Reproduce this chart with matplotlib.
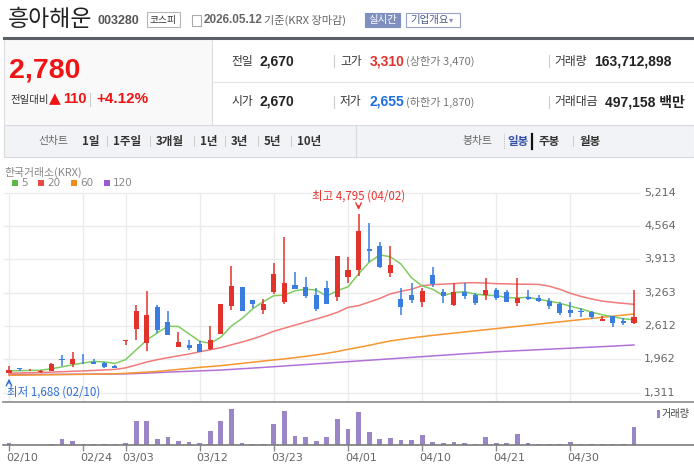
import numpy as np
import matplotlib
matplotlib.use('Agg')
import matplotlib.pyplot as plt
from matplotlib.patches import Rectangle
from matplotlib.lines import Line2D

plt.rcParams['font.family'] = ['Noto Sans CJK KR', 'DejaVu Sans']

# ---- data (daily candles 02/10 .. 05/12) ----
tick_idx = [0, 7, 11, 18, 25, 32, 39, 46, 53]
tick_labels = ['02/10', '02/24', '03/03', '03/12', '03/23', '04/01', '04/10', '04/21', '04/30']
price_ticks = [1311, 1962, 2612, 3263, 3913, 4564, 5214]

opens = [1688, 1775, 1745, 1710, 1740, 1965, 1876, 1950, 1910, 1890,
         1825, 2320, 2554, 2287, 2984, 2685, 2208, 2242, 2261, 2163,
         2456, 3009, 3374, 3120, 2931, 3277, 3081, 3413, 3374, 3218,
         3355, 3185, 3575, 3712, 4116, 4175, 3654, 3140, 3218, 3087,
         3609, 3271, 3023, 3277, 3218, 3218, 3316, 3271, 3068, 3179,
         3153, 3101, 3048, 2919, 2890, 2886, 2716, 2808, 2710, 2670]
highs = [1830, 1800, 1780, 1760, 1885, 2050, 2105, 2066, 1962, 1910,
         1850, 2333, 3030, 3296, 3030, 2906, 2495, 2333, 2325, 2613,
         3050, 3784, 3380, 3125, 3140, 3843, 4351, 3667, 3570, 3355,
         3491, 3980, 3960, 4795, 4624, 4253, 4175, 3349, 3452, 3361,
         3765, 3335, 3452, 3452, 3257, 3544, 3355, 3310, 3550, 3310,
         3218, 3153, 3081, 3075, 2970, 2911, 2814, 2814, 2763, 3310]
lows = [1688, 1740, 1735, 1690, 1735, 1830, 1818, 1865, 1870, 1800,
        1790, 2247, 2340, 2130, 2470, 2440, 2200, 2144, 2105, 2144,
        2450, 2931, 2905, 2964, 2847, 3238, 3048, 3330, 3165, 2911,
        3040, 3101, 3458, 3595, 3857, 3751, 3575, 2833, 3062, 2990,
        3368, 3068, 3009, 3146, 3029, 3120, 3126, 3080, 3009, 3120,
        3075, 2945, 2827, 2794, 2794, 2743, 2716, 2599, 2632, 2655]
closes = [1760, 1765, 1760, 1735, 1865, 1945, 1968, 1940, 1880, 1820,
          1795, 2333, 2906, 2827, 2535, 2443, 2300, 2183, 2111, 2339,
          3042, 3394, 2911, 3048, 3042, 3628, 3452, 3335, 3204, 2950,
          3048, 3980, 3706, 4468, 4083, 3765, 3804, 2990, 3126, 3296,
          3427, 3204, 3277, 3204, 3068, 3316, 3165, 3087, 3159, 3146,
          3101, 3009, 2872, 2867, 2880, 2794, 2749, 2677, 2670, 2780]
# volume in millions of shares
volume = [18, 2, 1.5, 2, 9, 58, 36, 9, 9, 9,
          9, 18, 221, 221, 58, 73, 36, 27, 18, 130,
          221, 327, 18, 9, 9, 191, 309, 82, 73, 36,
          73, 236, 148, 303, 118, 55, 64, 45, 45, 91,
          27, 18, 27, 18, 9, 73, 18, 18, 100, 18,
          9, 9, 9, 27, 9, 9, 9, 9, 9, 163.7]
ma5 = [1735, 1740, 1745, 1750, 1777, 1814, 1855, 1891, 1920, 1911,
       1881, 1954, 2147, 2336, 2479, 2609, 2602, 2458, 2314, 2275,
       2395, 2614, 2759, 2947, 3087, 3205, 3216, 3301, 3332, 3314,
       3198, 3303, 3378, 3630, 3857, 4000, 3965, 3822, 3554, 3396,
       3329, 3209, 3266, 3282, 3236, 3214, 3206, 3168, 3159, 3175,
       3132, 3100, 3057, 2999, 2946, 2884, 2832, 2793, 2754, 2734]
ma20 = [1690, 1695, 1700, 1705, 1712, 1720, 1728, 1735, 1745, 1755,
        1765, 1795, 1850, 1910, 1955, 1995, 2030, 2065, 2110, 2150,
        2190, 2245, 2300, 2360, 2430, 2510, 2570, 2630, 2690, 2750,
        2810, 2880, 2975, 3010, 3080, 3150, 3240, 3290, 3330, 3400,
        3420, 3430, 3440, 3455, 3458, 3450, 3440, 3435, 3430, 3428,
        3425, 3390, 3330, 3251, 3190, 3140, 3100, 3075, 3055, 3036]
ma60 = [1650, 1652, 1655, 1658, 1660, 1663, 1666, 1669, 1672, 1676,
        1680, 1688, 1700, 1712, 1725, 1745, 1765, 1785, 1805, 1822,
        1838, 1860, 1882, 1905, 1928, 1950, 1970, 1995, 2020, 2050,
        2079, 2115, 2157, 2195, 2235, 2280, 2320, 2350, 2380, 2405,
        2430, 2452, 2474, 2496, 2518, 2540, 2562, 2584, 2606, 2628,
        2650, 2672, 2694, 2716, 2738, 2760, 2782, 2804, 2826, 2847]
ma120 = [1665, 1666, 1667, 1668, 1669, 1670, 1671, 1672, 1673, 1674,
         1675, 1678, 1684, 1692, 1702, 1712, 1720, 1728, 1736, 1744,
         1752, 1765, 1778, 1791, 1804, 1818, 1832, 1846, 1860, 1874,
         1888, 1902, 1916, 1930, 1944, 1958, 1972, 1986, 2000, 2014,
         2028, 2042, 2056, 2070, 2083, 2097, 2110, 2120, 2130, 2140,
         2150, 2160, 2170, 2180, 2190, 2200, 2210, 2220, 2231, 2242]

RED = '#e1322b'
BLUE = '#3a7de0'
W, H = 694, 472
step = 625 / 59.0

fig = plt.figure(figsize=(W / 100, H / 100), dpi=100)
fig.patch.set_facecolor('white')


def ptext(x, y, s, **kw):
    kw.setdefault('va', 'center')
    fig.text(x / W, 1 - y / H, s, **kw)


def prect(x0, y0, x1, y1, **kw):
    fig.patches.append(Rectangle((x0 / W, 1 - y1 / H), (x1 - x0) / W, (y1 - y0) / H,
                                 transform=fig.transFigure, **kw))


def pline(x0, y0, x1, y1, **kw):
    fig.lines.append(Line2D([x0 / W, x1 / W], [1 - y0 / H, 1 - y1 / H],
                            transform=fig.transFigure, **kw))


NUM = ['Liberation Sans', 'Noto Sans CJK KR']

# ---- header ----
ptext(8, 19, '흥아해운', fontsize=16.5, color='#222222')
ptext(97, 21, '003280', fontsize=9, color='#555555', fontweight='bold', family=NUM)
prect(147, 12, 180, 27, facecolor='white', edgecolor='#b5b5b5', lw=0.8)
ptext(163.5, 19.5, '코스피', fontsize=7, color='#333333', ha='center')
prect(192, 15, 201, 26, facecolor='white', edgecolor='#aaaaaa', lw=0.8)
ptext(204, 20, '2026.05.12', fontsize=8.5, color='#666666', fontweight='bold', family=NUM)
ptext(264, 20, '기준(KRX 장마감)', fontsize=8, color='#666666')
prect(365, 13, 400, 27, facecolor='#7f8fbf', edgecolor='#7f8fbf', lw=0.8)
ptext(382.5, 20, '실시간', fontsize=7.5, color='white', ha='center')
prect(406, 13, 460, 27, facecolor='white', edgecolor='#99a3c6', lw=0.8)
ptext(410, 20, '기업개요', fontsize=7.5, color='#4a5a8a')
ptext(449, 20, '▾', fontsize=6, color='#8891b0', family=['DejaVu Sans'])

pline(4, 38, 694, 38, color='#5b6068', lw=2.2)
prect(4, 39.5, 212, 125, facecolor='#f9f9f9', edgecolor='none')
pline(212, 39.5, 212, 125, color='#dddddd', lw=0.8)
pline(4, 39.5, 4, 157, color='#dddddd', lw=0.8)
pline(213, 82, 694, 82, color='#e6e6e6', lw=0.8)

ptext(9, 71, '2,780', fontsize=20.5, color='#f01414', fontweight='bold', family=NUM)
ptext(10, 100, '전일대비', fontsize=7.5, color='#333333')
ptext(49, 99, '▲', fontsize=11, color='#f01414', family=['DejaVu Sans'])
ptext(63, 99, '110', fontsize=10.5, color='#f01414', fontweight='bold', family=NUM)
pline(90, 93, 90, 106, color='#cccccc', lw=0.8)
ptext(96, 99, '+4.12%', fontsize=11, color='#f01414', fontweight='bold', family=NUM)

rows = [(61, '전일', '2,670', '#222222', '고가', '3,310', RED, '(상한가 3,470)',
         '거래량', '163,712,898'),
        (102, '시가', '2,670', '#222222', '저가', '2,655', '#1e6fe0', '(하한가 1,870)',
         '거래대금', '497,158 백만')]
for y, l1, v1, c1, l2, v2, c2, note, l3, v3 in rows:
    ptext(231, y, l1, fontsize=8.5, color='#333333')
    ptext(260, y, v1, fontsize=10, color=c1, fontweight='bold', family=NUM)
    pline(334, y - 6, 334, y + 6, color='#cccccc', lw=0.8)
    ptext(340, y, l2, fontsize=8.5, color='#333333')
    ptext(370, y, v2, fontsize=10, color=c2, fontweight='bold', family=NUM)
    ptext(406, y, note, fontsize=8, color='#777777')
    pline(549, y - 6, 549, y + 6, color='#cccccc', lw=0.8)
    ptext(554, y, l3, fontsize=8.5, color='#333333')
    ptext(594 if l3 == '거래량' else 605, y, v3, fontsize=10, color='#222222',
          fontweight='bold', family=NUM)

# ---- tab bar ----
prect(4, 125, 694, 157, facecolor='#f2f3f7', edgecolor='#d6d9e0', lw=0.8)
pline(356, 125, 356, 157, color='#d6d9e0', lw=0.8)
ptext(38, 141, '선차트', fontsize=7.8, color='#666666')
tabs = [(82, '1일'), (113, '1주일'), (156, '3개월'), (200, '1년'),
        (231, '3년'), (264, '5년'), (297, '10년')]
for i, (x, s) in enumerate(tabs):
    ptext(x, 141, s, fontsize=8.3, color='#333333', fontweight='bold')
    if i > 0:
        pline(x - 6, 136, x - 6, 146, color='#cccccc', lw=0.7)
ptext(462, 141, '봉차트', fontsize=7.8, color='#666666')
ptext(507, 141, '일봉', fontsize=8.3, color='#3352a8', fontweight='bold')
pline(504, 134, 504, 149, color='#999999', lw=0.6, ls=':')
pline(532, 134, 532, 149, color='#111111', lw=1.6)
ptext(539, 141, '주봉', fontsize=8.3, color='#333333', fontweight='bold')
pline(573, 136, 573, 146, color='#cccccc', lw=0.7)
ptext(580, 141, '월봉', fontsize=8.3, color='#333333', fontweight='bold')

# ---- chart legend ----
ptext(4, 172, '한국거래소(KRX)', fontsize=7.8, color='#888888')
for x, c, s in [(12, '#5cb842', '5'), (38, '#e84a4a', '20'),
                (71, '#f08c1e', '60'), (104, '#9a5cd0', '120')]:
    prect(x, 180, x + 6, 186, facecolor=c, edgecolor='none')
    ptext(x + 9, 183.5, s, fontsize=7.5, color='#888888', family=['DejaVu Sans'])

# ---- price pane ----
x = np.arange(len(closes))
xl = ((3 - 9) / step, (694 - 9) / step)
grid_end = (640 - 9) / step


def price_at(py):
    return 3263 - (py - 292.7) * 19.53


ax = fig.add_axes([3 / W, 1 - 402 / H, (694 - 3) / W, (402 - 187) / H])
ax.set_facecolor('none')
ax.set_xlim(*xl)
ax.set_ylim(price_at(402), price_at(187))
for s in ['top', 'left', 'right']:
    ax.spines[s].set_visible(False)
ax.spines['bottom'].set_color('#8a8a8a')
ax.spines['bottom'].set_linewidth(1.2)
ax.set_xticks([])
ax.set_yticks([])

ax.hlines(price_ticks, xl[0], grid_end, color='#ebebeb', lw=1, zorder=0)
ax.vlines(tick_idx, price_at(402), 5214, color='#ebebeb', lw=1, zorder=0)
for p in price_ticks:
    ax.text((644 - 9) / step, p, f'{p:,}', fontsize=8, color='#666666',
            va='center', ha='left', family=['DejaVu Sans'])

ax.plot(x, ma120, color='#b072d8', lw=1.1, zorder=2)
ax.plot(x, ma60, color='#f5962f', lw=1.1, zorder=2)
ax.plot(x, ma20, color='#f27a7a', lw=1.1, zorder=2)
ax.plot(x, ma5, color='#80cc62', lw=1.1, zorder=2)

o = np.array(opens)
c = np.array(closes)
up = c >= o
cols = np.where(up, RED, BLUE)
ax.vlines(x, lows, highs, colors=cols, lw=1.1, zorder=3)
body = np.maximum(np.abs(c - o), 18)
ax.bar(x, body, bottom=np.minimum(o, c), width=0.48, color=cols, zorder=4)

hi_i = int(np.argmax(highs))
lo_i = int(np.argmin(lows))
ax.text(hi_i, price_at(196), f'최고 {highs[hi_i]:,} (04/02)', fontsize=8.3,
        color='#e8332f', ha='center', va='center')
ax.annotate('', xy=(hi_i, highs[hi_i] + 30), xytext=(hi_i, price_at(203)),
            arrowprops=dict(arrowstyle='->', color='#e8332f', lw=1))
ax.text(lo_i - 0.2, price_at(392), f'최저 {lows[lo_i]:,} (02/10)', fontsize=8.3,
        color='#2f6fd6', ha='left', va='center')
ax.annotate('', xy=(lo_i, lows[lo_i] - 50), xytext=(lo_i, price_at(386)),
            arrowprops=dict(arrowstyle='->', color='#2f6fd6', lw=1))

# ---- volume pane ----
axv = fig.add_axes([3 / W, 1 - 445 / H, (694 - 3) / W, (445 - 402) / H])
axv.set_facecolor('none')
axv.set_xlim(*xl)
axv.set_ylim(0, 43 * 9.09)
for s in ['top', 'left', 'right']:
    axv.spines[s].set_visible(False)
axv.spines['bottom'].set_color('#7a7a7a')
axv.spines['bottom'].set_linewidth(1.2)
axv.bar(x, volume, width=0.45, color='#9a86c6', zorder=2)
axv.set_yticks([])
axv.set_xticks(tick_idx)
axv.set_xticklabels([])
axv.tick_params(axis='x', direction='out', length=4, width=1, color='#8a8a8a')
for i, lab in zip(tick_idx, tick_labels):
    ptext(9 + step * i - 3, 458, lab, fontsize=8, color='#666666', ha='left',
          family=['DejaVu Sans'])
prect(657, 410, 660, 418, facecolor='#9a86c6', edgecolor='none')
ptext(662, 414, '거래량', fontsize=7.3, color='#444444')

fig.savefig('out.png', dpi=100)
